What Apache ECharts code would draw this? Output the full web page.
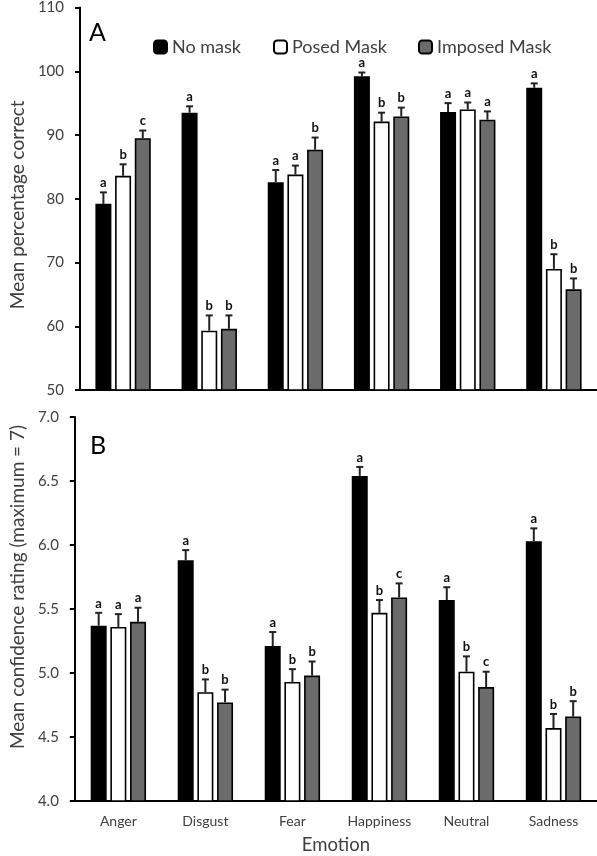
<!DOCTYPE html>
<html><head><meta charset="utf-8">
<script src="https://cdn.jsdelivr.net/npm/echarts@6/dist/echarts.min.js"></script>
<style>html,body{margin:0;padding:0;background:#fff}#c{width:597px;height:856px}</style>
</head><body><div id="c"></div>
<script>
const categories = ['Anger','Disgust','Fear','Happiness','Neutral','Sadness'];
const seriesNames = ['No mask','Posed Mask','Imposed Mask'];
const seriesColors = ['#000000','#ffffff','#6b6b6b'];

// Panel A: mean percentage correct
const accNoMask  = [79.2, 93.5, 82.6, 99.2, 93.6, 97.4];
const accPosed   = [83.6, 59.3, 83.8, 92.1, 94.0, 69.0];
const accImposed = [89.5, 59.6, 87.7, 92.9, 92.4, 65.8];
const accErrNoMask  = [1.8, 1.0, 1.9, 0.6, 1.4, 0.7];
const accErrPosed   = [1.8, 2.4, 1.4, 1.4, 1.1, 2.3];
const accErrImposed = [1.2, 2.1, 1.9, 1.4, 1.3, 1.7];
const accLetNoMask  = ['a','a','a','a','a','a'];
const accLetPosed   = ['b','b','a','b','a','b'];
const accLetImposed = ['c','b','b','b','a','b'];

// Panel B: mean confidence rating
const confNoMask  = [5.37, 5.88, 5.21, 6.54, 5.57, 6.03];
const confPosed   = [5.36, 4.85, 4.93, 5.47, 5.01, 4.57];
const confImposed = [5.40, 4.77, 4.98, 5.59, 4.89, 4.66];
const confErrNoMask  = [0.10, 0.08, 0.11, 0.07, 0.10, 0.10];
const confErrPosed   = [0.10, 0.10, 0.10, 0.10, 0.12, 0.11];
const confErrImposed = [0.11, 0.10, 0.11, 0.11, 0.12, 0.12];
const confLetNoMask  = ['a','a','a','a','a','a'];
const confLetPosed   = ['a','b','b','b','b','b'];
const confLetImposed = ['a','b','b','c','c','b'];

const accTicks = {min: 50, max: 110, interval: 10};
const confTicks = {min: 4, max: 7, interval: 0.5};

const BAR_W = 16, BAR_GAP = 0.23;
const BAR_STEP = BAR_W * (1 + BAR_GAP);
const FONT = 'Lato';
const TXT = '#404040';

function barSeries(k, vals, ax) {
  return {
    type: 'bar', name: seriesNames[k], xAxisIndex: ax, yAxisIndex: ax,
    data: vals, barWidth: BAR_W, barGap: (BAR_GAP*100)+'%',
    itemStyle: {color: seriesColors[k], borderColor: '#000', borderWidth: 1.6},
    silent: true, z: 2
  };
}
function errSeries(k, vals, errs, letters, ax) {
  return {
    type: 'custom', xAxisIndex: ax, yAxisIndex: ax, silent: true, z: 5,
    data: vals.map((v, i) => [i, v, v + errs[i]]),
    renderItem: function (params, api) {
      const i = api.value(0);
      const base = api.coord([i, api.value(1)]);
      const top = api.coord([i, api.value(2)]);
      const x = base[0] + (k - 1) * BAR_STEP;
      return {type: 'group', children: [
        {type: 'line', shape: {x1: x, y1: base[1], x2: x, y2: top[1]}, style: {stroke: '#222', lineWidth: 2}},
        {type: 'line', shape: {x1: x - 3.5, y1: top[1], x2: x + 3.5, y2: top[1]}, style: {stroke: '#222', lineWidth: 2}},
        {type: 'text', style: {text: letters[params.dataIndex], x: x, y: top[1] - 3, align: 'center', verticalAlign: 'bottom',
          font: 'bold 13px ' + FONT, fill: '#111'}}
      ]};
    }
  };
}

function yAxis(grid, t, name, fmt, namePad) {
  return {
    type: 'value', gridIndex: grid, min: t.min, max: t.max, interval: t.interval,
    name: name, nameLocation: 'middle', nameRotate: 90, nameGap: 41,
    nameTextStyle: {fontSize: 19, color: TXT, fontFamily: FONT, padding: namePad},
    axisLine: {show: true, lineStyle: {color: '#000', width: 2}},
    axisTick: {show: true, length: 5, lineStyle: {color: '#000', width: 2}},
    splitLine: {show: false},
    axisLabel: {fontSize: 15, color: TXT, fontFamily: FONT, margin: 16, formatter: fmt}
  };
}

const legendBase = {
  itemWidth: 13, itemHeight: 13, selectedMode: false, top: 33,
  textStyle: {fontSize: 18, color: TXT, fontFamily: FONT}
};

const option = {
  animation: false,
  textStyle: {fontFamily: FONT},
  title: [
    {text: 'A', left: 89, top: 20, padding: 0, textStyle: {fontSize: 25, fontWeight: 'normal', color: '#000', fontFamily: FONT}},
    {text: 'B', left: 90, top: 433, padding: 0, textStyle: {fontSize: 25, fontWeight: 'normal', color: '#000', fontFamily: FONT}}
  ],
  legend: [
    Object.assign({}, legendBase, {data: [seriesNames[0]], left: 148}),
    Object.assign({}, legendBase, {data: [seriesNames[1]], left: 268}),
    Object.assign({}, legendBase, {data: [seriesNames[2]], left: 413})
  ],
  grid: [
    {left: 66, right: 0, top: 5, height: 385},
    {left: 66, right: 0, top: 417, height: 386}
  ],
  xAxis: [
    {type: 'category', gridIndex: 0, data: categories,
      axisLine: {lineStyle: {color: '#000', width: 2}}, axisTick: {show: false}, axisLabel: {show: false}},
    {type: 'category', gridIndex: 1, data: categories,
      name: 'Emotion', nameLocation: 'middle', nameGap: 35,
      nameTextStyle: {fontSize: 18.5, color: TXT, fontFamily: FONT},
      axisLine: {lineStyle: {color: '#000', width: 2}}, axisTick: {show: false},
      axisLabel: {fontSize: 14, color: TXT, fontFamily: FONT, margin: 13}}
  ],
  yAxis: [
    yAxis(0, accTicks, 'Mean percentage correct', v => String(v), [0, 12, 0, 0]),
    yAxis(1, confTicks, 'Mean confidence rating (maximum = 7)', v => v.toFixed(1), [0, 0, 0, 44])
  ],
  series: [
    barSeries(0, accNoMask, 0), barSeries(1, accPosed, 0), barSeries(2, accImposed, 0),
    errSeries(0, accNoMask, accErrNoMask, accLetNoMask, 0),
    errSeries(1, accPosed, accErrPosed, accLetPosed, 0),
    errSeries(2, accImposed, accErrImposed, accLetImposed, 0),
    barSeries(0, confNoMask, 1), barSeries(1, confPosed, 1), barSeries(2, confImposed, 1),
    errSeries(0, confNoMask, confErrNoMask, confLetNoMask, 1),
    errSeries(1, confPosed, confErrPosed, confLetPosed, 1),
    errSeries(2, confImposed, confErrImposed, confLetImposed, 1)
  ]
};
echarts.init(document.getElementById('c'), null, {renderer: 'canvas'}).setOption(option);
</script></body></html>
